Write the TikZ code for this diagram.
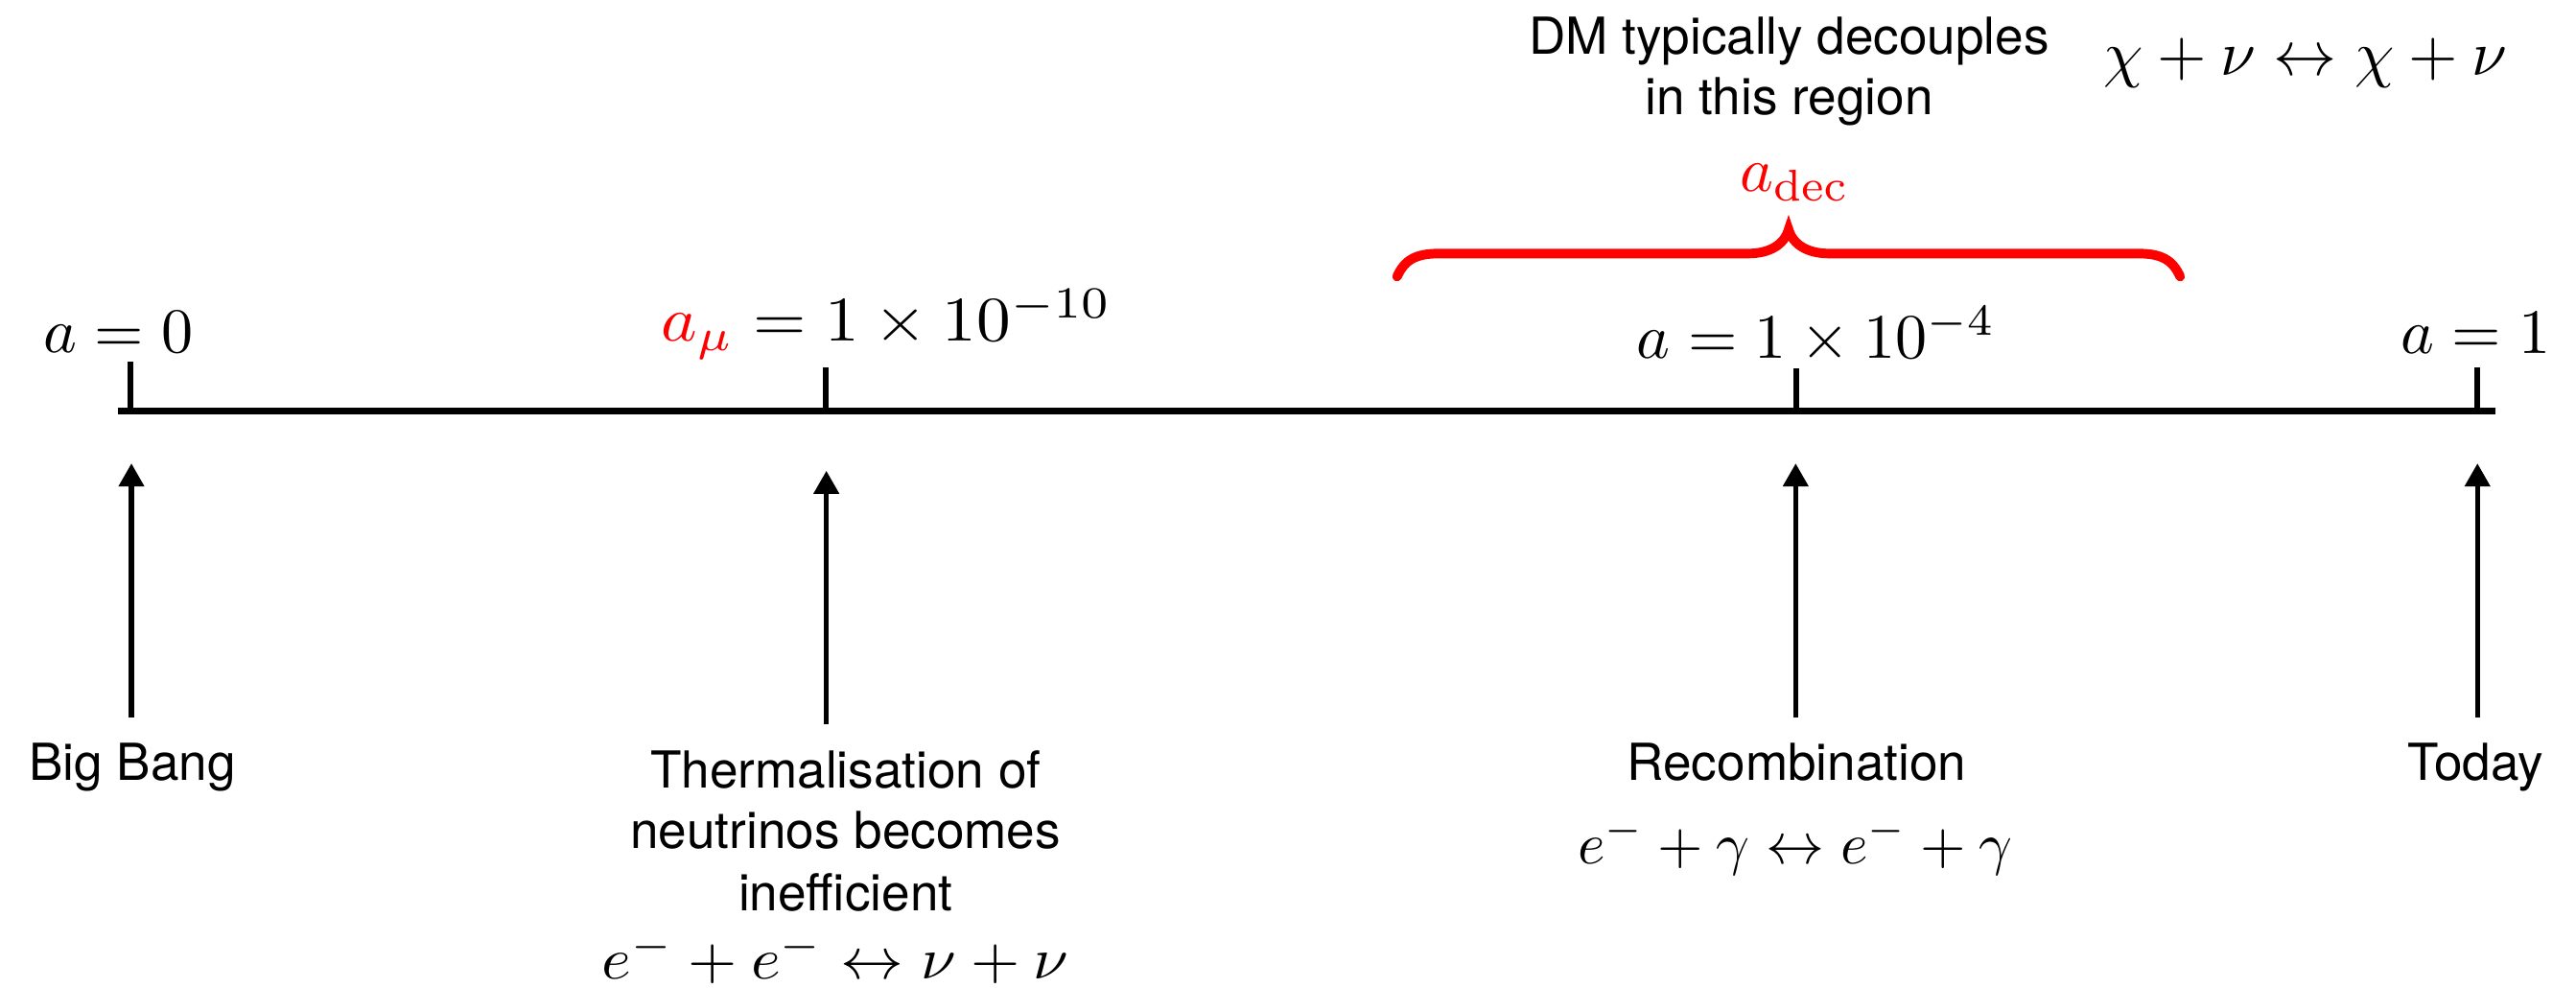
\documentclass[tikz,border=0pt]{standalone}
\usepackage[no-math]{fontspec}
\usepackage{graphicx}
\setsansfont{TeX Gyre Heros}
\usetikzlibrary{arrows.meta}
\newcommand{\mbig}[1]{\scalebox{1.93}{$#1$}}
\begin{document}
\begin{tikzpicture}[x=0.5pt,y=-0.5pt,
  lbl/.style={inner sep=0pt, outer sep=0pt, anchor=base, font=\sffamily\fontsize{15.5}{18.35}\selectfont},
  mth/.style={inner sep=0pt, outer sep=0pt, anchor=base west},
  arr/.style={line width=1.5pt, -{Triangle[length=7pt,width=7.5pt]}},
  tickline/.style={line width=1.75pt},
  timeline/.style={line width=2pt},
  bracestyle/.style={red, line width=2.9pt, line cap=round},
]
\useasboundingbox (0,0) rectangle (1568,600.7);

% timeline
\coordinate (L) at (72,250);
\coordinate (R) at (1519,250);
\draw[timeline] (L) -- (R);

% ticks
\coordinate (k1b) at (79.4,250); \coordinate (k1t) at (79.4,220);
\coordinate (k2b) at (502.6,250); \coordinate (k2t) at (502.6,223.6);
\coordinate (k3b) at (1093.3,250); \coordinate (k3t) at (1093.3,224);
\coordinate (k4b) at (1507.8,250); \coordinate (k4t) at (1507.8,223.6);
\draw[tickline] (k1b) -- (k1t);
\draw[tickline] (k2b) -- (k2t);
\draw[tickline] (k3b) -- (k3t);
\draw[tickline] (k4b) -- (k4t);

% tick labels
\node[mth] (a0) at (26.5,214.8) {\mbig{a=0}};
\node[mth] (amu) at (402.5,207.5) {\scalebox{2.079}[1.93]{$\color{red}a_\mu\color{black} = 1\times10^{-10}$}};
\node[mth] (a4) at (996.3,217.9) {\mbig{a=1\times10^{-4}}};
\node[mth] (a1) at (1461.5,215.4) {\mbig{a=1}};

% arrows
\coordinate (p1b) at (80,436.7); \coordinate (p1t) at (80,282);
\coordinate (p2b) at (503,441); \coordinate (p2t) at (503,286.5);
\coordinate (p3b) at (1093,436.7); \coordinate (p3t) at (1093,282);
\coordinate (p4b) at (1508,436.7); \coordinate (p4t) at (1508,282);
\draw[arr] (p1b) -- (p1t);
\draw[arr] (p2b) -- (p2t);
\draw[arr] (p3b) -- (p3t);
\draw[arr] (p4b) -- (p4t);

% event labels
\node[lbl] (bb) at (80.6,474.6) {Big Bang};
\node[lbl] (th1) at (514.7,479.7) {Thermalisation of};
\node[lbl] (th2) at (514.7,516.6) {neutrinos becomes};
\node[lbl] (th3) at (514.7,554) {inefficient};
\node[mth] (thf) at (366.4,596) {\scalebox{1.922}[1.78]{$e^-+e^-\leftrightarrow\nu+\nu$}};
\node[lbl] (rec) at (1093.6,474.7) {Recombination};
\node[mth] (recf) at (960.6,525.4) {\scalebox{1.78}{$e^-+\gamma\leftrightarrow e^-+\gamma$}};
\node[lbl] (tod) at (1507,474.6) {Today};

% brace
\coordinate (brL) at (850.4,168.3);
\coordinate (brM) at (1088.7,139.7);
\coordinate (brR) at (1327,168.3);
\draw[bracestyle] (brL) .. controls (855,158) and (862,154.3) .. (876,154.3)
  -- (1064,154.3) .. controls (1077,154.3) and (1086,149) .. (brM)
  .. controls (1091.4,149) and (1100.4,154.3) .. (1113.4,154.3)
  -- (1301.4,154.3) .. controls (1315.4,154.3) and (1322.4,158) .. (brR);

\node[mth] (adec) at (1059,116.3) {\mbig{\color{red}a_{\mathrm{dec}}}};
\node[lbl] (dm1) at (1089,33) {DM typically decouples};
\node[lbl] (dm2) at (1089,69.7) {in this region};
\node[mth] (chi) at (1280.5,45.7) {\mbig{\chi+\nu\leftrightarrow\chi+\nu}};
\end{tikzpicture}
\end{document}
